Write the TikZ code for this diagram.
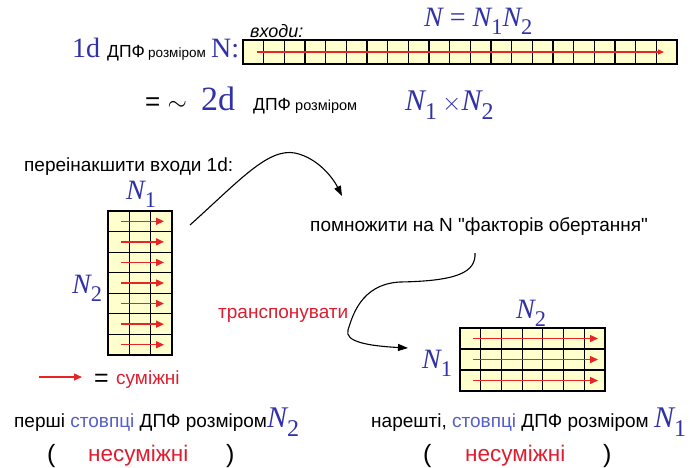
\documentclass[tikz,border=0pt]{standalone}
\usepackage{fontspec}
\setmainfont{Liberation Sans}[Ligatures=TeXOff]
\newfontfamily\tms{Liberation Serif}
\usetikzlibrary{arrows.meta}
\definecolor{nblue}{RGB}{50,50,168}
\definecolor{sblue}{RGB}{85,95,200}
\definecolor{tred}{RGB}{222,30,48}
\definecolor{ared}{RGB}{232,36,36}
\definecolor{cellfill}{RGB}{255,255,206}
% italic N with a lowered upright index
\newcommand\Nidx[1]{{\itshape N}\raisebox{-0.3em}{\scalebox{0.8}{#1}}}
\newcommand\fs[1]{\fontsize{#1}{#1}\selectfont}
\tikzset{
  txt/.style={inner sep=0pt, anchor=base west},
  gridline/.style={draw=black, line width=1.2pt},
  rowarrow/.style={draw=ared, line width=1.4pt, -{Triangle[length=8pt,width=7pt]}},
  flow/.style={draw=black, line width=1.1pt, -{Triangle[length=10pt,width=7pt]}},
  mathlbl/.style={inner sep=0pt, text=nblue, font=\tms\fs{28}},
}
\begin{document}
\begin{tikzpicture}[x=1pt,y=-1pt]
\useasboundingbox (0,0) rectangle (690,467);
\fill[white] (0,0) rectangle (690,467);

% ---- first line: 1d DFT of size N
\node[txt, text=nblue, font=\tms\fs{28}] (l1d) at (72,57) {1d};
\node[txt, font=\fs{17.5}] (l1dft) at (107,57) {ДПФ};
\node[txt, font=\fs{13.5}] (l1size) at (148,57) {розміром};
\node[txt, text=nblue, font=\tms\fs{28}] (l1N) at (211,57) {N:};
\node[txt, font=\itshape\fs{18}] (inputs) at (250,37) {входи:};
\node[txt, text=nblue, font=\tms\fs{28}] (Neq) at (424,26) {\itshape N\upshape{} = \Nidx{1}\Nidx{2}};

% the 1d input vector
\fill[cellfill] (243,40) rectangle (677,64);
\foreach \i in {1,...,20} \draw[gridline] ({243+\i*434/21},40) -- ++(0,24);
\draw[ared, line width=1.1pt, -{Triangle[length=6pt,width=5pt]}] (257,52) -- (664,52);
\draw[gridline] (243,40) rectangle (677,64);

% ---- second line: ~ 2d DFT
\node[txt, font=\fs{26}] (approx) at (145,110) {= $\sim$};
\node[txt, text=nblue, font=\tms\fs{34}] (l2d) at (201,110) {2d};
\node[txt, font=\fs{17.5}] (l2dft) at (253,110) {ДПФ};
\node[txt, font=\fs{14.5}] (l2size) at (295,110) {розміром};
\node[txt, text=nblue, font=\tms\fs{30}] (l2N) at (405,110) {\Nidx{1}\,$\times$\Nidx{2}};

% ---- reshuffle into N2 x N1
\node[txt, font=\fs{19}] (reshuf) at (24,171) {переінакшити входи 1d:};
\fill[cellfill] (108,211) rectangle (172,355);
\foreach \i in {1,2} \draw[gridline] ({108+\i*64/3},211) -- ++(0,144);
\foreach \j in {1,...,6} \draw[gridline] (108,{211+\j*144/7}) -- ++(64,0);
\foreach \j in {0,...,6} \draw[rowarrow] (121,{211+(\j+0.5)*144/7}) -- (164,{211+(\j+0.5)*144/7});
\draw[gridline] (108,211) rectangle (172,355);
\node[mathlbl, anchor=base west] (tN1) at (126,199) {\Nidx{1}};
\node[mathlbl, anchor=base west] (tN2) at (72,293) {\Nidx{2}};

% legend
\coordinate (lgA) at (39,377);
\coordinate (lgB) at (82,377);
\draw[rowarrow] (lgA) -- (lgB);
\node[txt, font=\fs{25}] (lgeq) at (94,386) {=};
\node[txt, text=tred, font=\fs{19}] (lgadj) at (116,384) {суміжні};

% twiddle factors
\node[txt, font=\fs{19}] (twiddle) at (310,231) {помножити на N "факторів обертання"};
\coordinate (c1s) at (190,225);
\coordinate (c1e) at (342,196);
\draw[flow] (c1s) .. controls (240,180) and (268,148) .. (295,153)
                  .. controls (318,158) and (333,178) .. (c1e);

% transpose
\node[txt, text=tred, font=\fs{19}] (transp) at (218,318) {транспонувати};
\coordinate (c2s) at (475,253);
\coordinate (c2e) at (408,348);
\draw[flow] (c2s) .. controls (476,272) and (458,281) .. (400,282)
                  .. controls (360,284) and (352,318) .. (348,330)
                  .. controls (344,342) and (370,346) .. (c2e);

% ---- transposed N1 x N2 array
\fill[cellfill] (460,328) rectangle (605,391);
\foreach \i in {1,...,6} \draw[gridline] ({460+\i*145/7},328) -- ++(0,63);
\foreach \j in {1,2} \draw[gridline] (460,{328+\j*21}) -- ++(145,0);
\foreach \j in {0,1,2} \draw[rowarrow] (473,{328+(\j+0.5)*21}) -- (598,{328+(\j+0.5)*21});
\draw[gridline] (460,328) rectangle (605,391);
\node[mathlbl, anchor=base west] (wN2) at (516,318) {\Nidx{2}};
\node[mathlbl, anchor=base west] (wN1) at (422,368) {\Nidx{1}};

% ---- bottom captions
\node[txt, font=\fs{19}] (capL) at (14,427)
  {перші \textcolor{sblue}{стовпці} ДПФ розміром\textcolor{nblue}{\tms\fs{30}\Nidx{2}}};
\node[txt, font=\fs{25}] (pLo) at (47,462) {(};
\node[txt, text=tred, font=\fs{22.5}] (nadjL) at (88,461) {несуміжні};
\node[txt, font=\fs{25}] (pLc) at (226,462) {)};

\node[txt, font=\fs{19}] (capR) at (371,427)
  {нарешті, \textcolor{sblue}{стовпці} ДПФ розміром\ \textcolor{nblue}{\tms\fs{30}\Nidx{1}}};
\node[txt, font=\fs{25}] (pRo) at (423,462) {(};
\node[txt, text=tred, font=\fs{22.5}] (nadjR) at (465,461) {несуміжні};
\node[txt, font=\fs{25}] (pRc) at (603,462) {)};
\end{tikzpicture}
\end{document}
